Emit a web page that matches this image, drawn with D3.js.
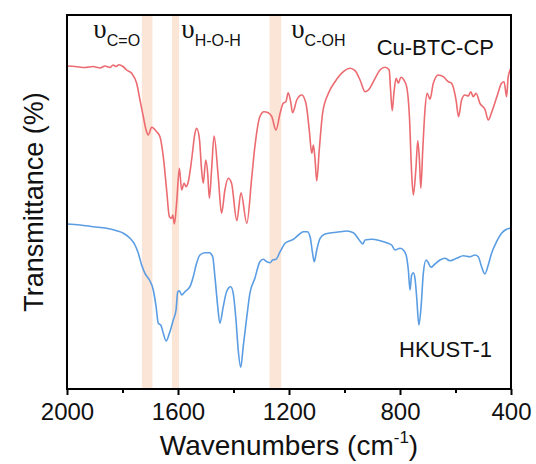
<!DOCTYPE html>
<html>
<head>
<meta charset="utf-8">
<script src="https://cdn.jsdelivr.net/npm/d3@7"></script>
<style>
  html, body { margin: 0; padding: 0; background: #fff; }
  svg { display: block; }
</style>
</head>
<body>
<svg id="chart" width="536" height="464"></svg>
<script>
// ---------- DATA (wavenumber in cm-1, transmittance in arbitrary units) ----------
const cuWave = [2000,1971,1935,1906,1881,1863,1845,1834,1823,1813,1798,1785,1767,1749,1737,1725,1715,1707,1695,1677,1665,1653,1641,1631,1623,1619,1613,1605,1595,1587,1578,1571,1563,1551,1539,1533,1523,1515,1509,1500,1493,1487,1479,1470,1455,1443,1431,1419,1407,1388,1373,1352,1334,1323,1305,1290,1275,1262,1247,1232,1221,1211,1203,1194,1187,1172,1154,1139,1127,1118,1112,1106,1100,1091,1079,1058,1034,1004,980,962,944,926,914,896,872,854,839,834,828,822,814,806,797,786,776,766,758,752,743,736,730,725,718,710,702,692,680,662,644,626,614,598,589,578,566,554,545,536,526,512,493,482,469,451,434,425,416,410,400];
const cuT = [323,322.5,321.5,322.5,321,323,321.5,324,322.5,324.3,322.5,319,315.7,305.7,289,272.3,259,254,261.7,257.3,252.3,232.3,199,172.3,170.7,174,165,186,220.7,199,205.7,202.3,207.3,229,255.7,260.7,250.7,219,205.7,229,215.7,190.7,219,253,212.3,175.7,199,210.7,205.7,168.3,196.3,165.7,212.3,242.3,272.3,277.3,276.3,272.3,259,275.7,285.7,287.3,296.3,287.3,276.3,289,294,285.7,259,235.7,244,229,208,239,275.7,295.7,307.3,317.3,320.7,318.3,309,297.3,299,307.3,319,321.7,319,299,278.3,295.7,310.7,305.7,311.7,309,302.3,272.3,215.7,194,219,248.3,229,200.7,239,279,295.7,289.7,305.7,314,312.3,307.3,305.7,289,272.3,289,294,293,297.3,292.3,295.7,285.7,279,269,277.3,292.3,305.7,307.3,292.3,312.3,320.7];

const hkWave = [2000,1953,1905,1857,1821,1797,1773,1755,1743,1731,1719,1703,1689,1679,1671,1662,1653,1643,1631,1617,1607,1601,1595,1587,1575,1557,1545,1533,1521,1503,1487,1475,1467,1458,1449,1437,1425,1410,1401,1391,1383,1374,1365,1352,1341,1323,1305,1293,1280,1268,1259,1247,1232,1214,1196,1184,1166,1148,1134,1124,1115,1109,1100,1088,1070,1046,1016,992,968,947,934,926,902,872,848,830,818,800,788,778,770,764,758,752,746,740,732,724,716,706,698,689,674,656,638,620,596,572,548,530,518,506,494,482,470,452,434,416,404,400];
const hkT = [165,164,162.3,160.7,158.3,155.7,150.7,144,135.7,124,115.7,109,99,82.3,65.7,64,55.7,48,55.7,69,79,97.3,98.3,94,97.3,102.3,112.3,125.7,134,136.3,136.3,132.3,112.3,85.7,65.7,82.3,97.3,102.3,95.7,69,39,21.7,42.3,72.3,95.7,110.7,127.3,129.7,127.3,126.3,129,129.7,137.3,145.7,148.3,149.7,154,157.3,157.3,152.3,135.7,127.3,139,150.7,155,156.3,157.3,158,156.3,149,145,149,149.7,148.3,146.3,144,139,140.7,139,134,119,99,114,116.3,110.7,92.3,64,82.3,115.7,129,126.3,121.7,125,129,130.7,128.3,130.7,133.3,132.3,134,132.3,122.3,115,124,135.7,147.3,155.7,159.7,160.7,161];

const majorTicks = [2000, 1600, 1200, 800, 400];
const minorTicks = [1800, 1400, 1000, 600];
const bands = [[1730, 1692], [1622, 1596], [1270, 1228]];
const bandLabels = [
  { wave: 1905, sub: "C=O" },
  { wave: 1588, sub: "H-O-H" },
  { wave: 1192, sub: "C-OH" }
];
const seriesNames = ["Cu-BTC-CP", "HKUST-1"];

// ---------- LAYOUT ----------
const L = 67, R = 511, T = 15, B = 389;
const svg = d3.select("#chart");
const x = d3.scaleLinear().domain([2000, 400]).range([L, R]);
const y = d3.scaleLinear().domain([0, 374]).range([B, T]);
const sans = "'Liberation Sans', Arial, sans-serif";

// bands
svg.append("g").selectAll("rect").data(bands).join("rect")
  .attr("x", d => x(d[0]))
  .attr("width", d => x(d[1]) - x(d[0]))
  .attr("y", T).attr("height", B - T)
  .attr("fill", "#fbe5d6");

// lines
const line = d3.line().x(d => x(d[0])).y(d => y(d[1])).curve(d3.curveMonotoneX);
const cuData = cuWave.map((w, i) => [w, cuT[i]]);
const hkData = hkWave.map((w, i) => [w, hkT[i]]);
svg.append("path").datum(cuData).attr("d", line)
  .attr("fill", "none").attr("stroke", "#ec6b70").attr("stroke-width", 1.6).attr("stroke-linejoin", "round");
svg.append("path").datum(hkData).attr("d", line)
  .attr("fill", "none").attr("stroke", "#5b9de3").attr("stroke-width", 1.6).attr("stroke-linejoin", "round");

// frame
svg.append("rect").attr("x", L).attr("y", T).attr("width", R - L).attr("height", B - T)
  .attr("fill", "none").attr("stroke", "#000").attr("stroke-width", 2);

// axes
const ax = svg.append("g").attr("transform", `translate(0,${B})`)
  .call(d3.axisBottom(x).tickValues(majorTicks).tickSize(6).tickPadding(8).tickFormat(d3.format("d")));
ax.select(".domain").remove();
ax.selectAll("line").attr("stroke", "#000").attr("stroke-width", 2);
ax.selectAll("text").attr("font-family", sans).attr("font-size", 24).attr("fill", "#111");

const axm = svg.append("g").attr("transform", `translate(0,${B})`)
  .call(d3.axisBottom(x).tickValues(minorTicks).tickSize(4).tickFormat(""));
axm.select(".domain").remove();
axm.selectAll("line").attr("stroke", "#000").attr("stroke-width", 2);

// axis titles
const xt = svg.append("text").attr("x", (L + R) / 2).attr("y", 455)
  .attr("text-anchor", "middle").attr("font-family", sans).attr("font-size", 28).attr("fill", "#111");
xt.append("tspan").text("Wavenumbers (cm");
xt.append("tspan").attr("font-size", 17).attr("dy", -12).text("-1");
xt.append("tspan").attr("dy", 12).text(")");

svg.append("text").attr("transform", `translate(43,${(T + B) / 2}) rotate(-90)`)
  .attr("text-anchor", "middle").attr("font-family", sans).attr("font-size", 27).attr("fill", "#111")
  .text("Transmittance (%)");

// band labels
bandLabels.forEach(b => {
  const t = svg.append("text").attr("x", x(b.wave)).attr("y", 38).attr("fill", "#111");
  t.append("tspan").attr("font-family", "'Liberation Serif', 'Times New Roman', serif").attr("font-size", 27).text("υ");
  t.append("tspan").attr("font-family", sans).attr("font-size", 16).attr("dy", 8).text(b.sub);
});

// series labels
svg.append("text").attr("x", 494).attr("y", 55).attr("text-anchor", "end")
  .attr("font-family", sans).attr("font-size", 22).attr("fill", "#111").text(seriesNames[0]);
svg.append("text").attr("x", 492).attr("y", 357).attr("text-anchor", "end")
  .attr("font-family", sans).attr("font-size", 22).attr("fill", "#111").text(seriesNames[1]);
</script>
</body>
</html>
